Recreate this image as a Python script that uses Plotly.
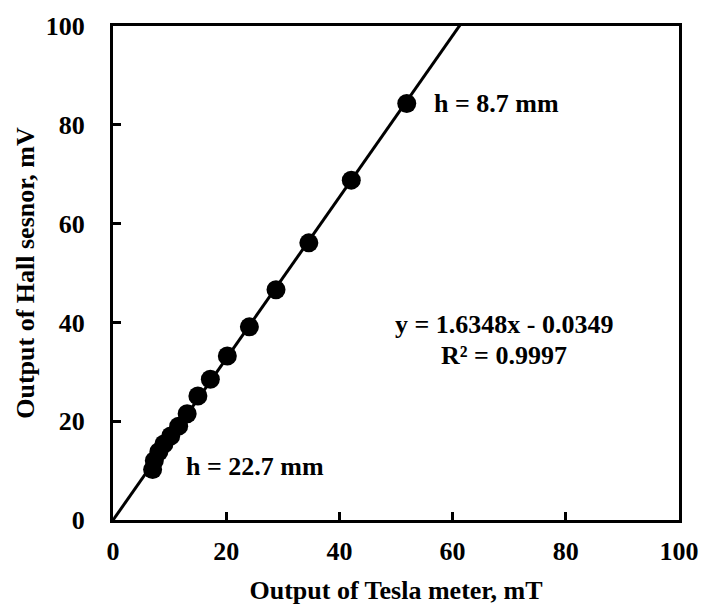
import plotly.graph_objects as go

# Data
tesla_mT = [51.9, 42.1, 34.6, 28.8, 24.1, 20.2, 17.2, 15.0, 13.1, 11.6, 10.2, 9.0, 8.1, 7.3, 7.0]
hall_mV = [84.3, 68.8, 56.1, 46.6, 39.1, 33.2, 28.5, 25.1, 21.5, 19.0, 17.0, 15.4, 13.8, 12.0, 10.2]

slope = 1.6348
intercept = -0.0349
fit_x = [0, 65]
fit_y = [slope * v + intercept for v in fit_x]

x_ticks = [0, 20, 40, 60, 80, 100]
y_ticks = [0, 20, 40, 60, 80, 100]

FONT = "Liberation Serif"
FS = 26

fig = go.Figure()
fig.add_trace(go.Scatter(x=fit_x, y=fit_y, mode="lines",
                         line=dict(color="black", width=3), showlegend=False))
fig.add_trace(go.Scatter(x=tesla_mT, y=hall_mV, mode="markers",
                         marker=dict(color="black", size=19), showlegend=False))

ann_font = dict(family=FONT, size=FS, color="black", weight="bold")
fig.add_annotation(x=56.4, y=84.3, xref="x", yref="y", text="h = 8.7 mm",
                   showarrow=False, xanchor="left", yanchor="middle", font=ann_font)
fig.add_annotation(x=12.5, y=10.8, xref="x", yref="y", text="h = 22.7 mm",
                   showarrow=False, xanchor="left", yanchor="middle", font=ann_font)
fig.add_annotation(x=69.0, y=39.6, xref="x", yref="y", text="y = 1.6348x - 0.0349",
                   showarrow=False, xanchor="center", yanchor="middle", font=ann_font)
fig.add_annotation(x=69.0, y=33.3, xref="x", yref="y", text="R² = 0.9997",
                   showarrow=False, xanchor="center", yanchor="middle", font=ann_font)

axis_common = dict(
    showgrid=False, zeroline=False, showline=True, linecolor="black", linewidth=3,
    mirror=True, ticks="inside", ticklen=8, tickwidth=3, tickcolor="black",
    tickfont=dict(family=FONT, size=FS, color="black", weight="bold"),
    range=[0, 100],
)

fig.update_layout(
    width=711, height=612,
    margin=dict(l=113, r=26, t=25, b=90),
    paper_bgcolor="white", plot_bgcolor="white",
    xaxis=dict(**axis_common, tickvals=x_ticks, ticklabelstandoff=6,
               title=dict(text="Output of Tesla meter, mT", standoff=16,
                          font=dict(family=FONT, size=FS, color="black", weight="bold"))),
    yaxis=dict(**axis_common, tickvals=y_ticks, ticklabelstandoff=20,
               title=dict(text="Output of Hall sesnor, mV", standoff=4,
                          font=dict(family=FONT, size=FS, color="black", weight="bold"))),
)

fig.write_html("out.html")
